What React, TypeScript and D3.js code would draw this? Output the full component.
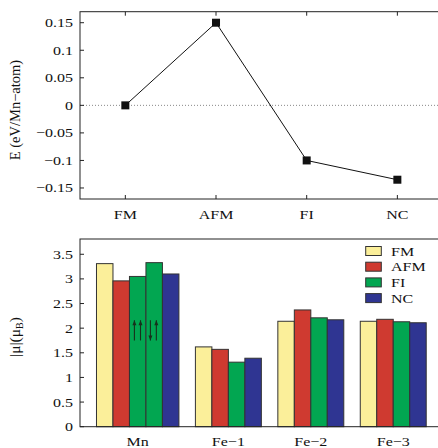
import React from "react";
import * as d3 from "d3";

const energyCategories = ["FM", "AFM", "FI", "NC"];
const energyValues = [0, 0.15, -0.1, -0.135];
const energyTicks = [-0.15, -0.1, -0.05, 0, 0.05, 0.1, 0.15];

const momentCategories = ["Mn", "Fe\u22121", "Fe\u22122", "Fe\u22123"];
const momentFM = [3.31, 1.62, 2.14, 2.14];
const momentAFM = [2.96, 1.57, 2.37, 2.18];
const momentFI = [3.05, 1.31, 2.21, 2.13];
const momentFI2 = [3.33, null, null, null];
const momentNC = [3.1, 1.39, 2.17, 2.11];
const momentTicks = [0, 0.5, 1, 1.5, 2, 2.5, 3, 3.5];

const seriesNames = ["FM", "AFM", "FI", "NC"];
const seriesColors = ["#fbef9a", "#cf3a30", "#02a651", "#2f3592"];

const FONT = "Liberation Serif, Times New Roman, Times, serif";

function fmt(v: number) {
  if (v === 0) return "0";
  const s = String(Math.abs(v));
  return (v < 0 ? "\u2212" : "") + s;
}

const SY = 0.82;

function T(props: { x: number; y: number; anchor?: string; children: React.ReactNode; size?: number }) {
  const { x, y, anchor, children, size } = props;
  return (
    <text transform={`translate(${x},${y}) scale(1,${SY})`} textAnchor={anchor || "start"}
      fontSize={size || 16} fill="#111" style={{ fontFamily: FONT }}>
      {children}
    </text>
  );
}

export default function App() {
  const W = 438;
  const H = 448;
  const left = 80;
  const right = 442.7;

  // top panel
  const t0 = 11.7, t1 = 199;
  const xE = d3.scaleLinear().domain([0.5, 4.5]).range([left, right]);
  const yE = d3.scaleLinear().domain([-0.17, 0.17]).range([t1, t0]);
  const pts = energyValues.map((v, i) => [xE(i + 1), yE(v)] as [number, number]);
  const linePath = d3.line()(pts) || "";

  // bottom panel
  const b0 = 239, b1 = 426.7;
  const yM = d3.scaleLinear().domain([0, 3.81]).range([b1, b0]);
  type Bar = { slot: number; value: number; color: string; arrows?: string };
  const bars: Bar[] = [];
  const groupCenters: number[] = [];
  let slot = 1;
  momentCategories.forEach((_, g) => {
    const list: { v: number | null; c: string; a?: string }[] = [
      { v: momentFM[g], c: seriesColors[0] },
      { v: momentAFM[g], c: seriesColors[1] },
      { v: momentFI[g], c: seriesColors[2], a: g === 0 ? "uu" : undefined },
      { v: momentFI2[g], c: seriesColors[2], a: "du" },
      { v: momentNC[g], c: seriesColors[3] },
    ];
    const start = slot;
    list.forEach((b) => {
      if (b.v == null) return;
      bars.push({ slot, value: b.v, color: b.c, arrows: b.a });
      slot += 1;
    });
    groupCenters.push((start + slot) / 2);
    slot += 1;
  });
  const xM = d3.scaleLinear().domain([0, slot]).range([left, right]);
  const bw = xM(1) - xM(0);

  const arrowColor = "#17301c";
  const arrowLo = 1.75, arrowHi = 2.16;
  const arrow = (x: number, up: boolean, key: string) => {
    const yTop = yM(arrowHi), yBot = yM(arrowLo);
    const tip = up ? yTop : yBot;
    const dir = up ? 1 : -1;
    return (
      <g key={key}>
        <line x1={x} x2={x} y1={yTop} y2={yBot} stroke={arrowColor} strokeWidth={1.1} />
        <path d={`M${x},${tip} L${x - 2},${tip + dir * 5} L${x + 2},${tip + dir * 5} Z`} fill={arrowColor} />
      </g>
    );
  };

  const tickLen = 4;

  return (
    <svg width={W} height={H} style={{ position: "absolute", left: 0, top: 0, background: "#fff", fontFamily: FONT }}>
      <rect x={0} y={0} width={W} height={H} fill="#fff" />
      {/* ===== Top panel ===== */}
      <line x1={left} x2={right} y1={yE(0)} y2={yE(0)} stroke="#888" strokeWidth={1} strokeDasharray="1,2" />
      {energyTicks.map((t) => (
        <g key={"et" + t}>
          <line x1={left} x2={left + tickLen} y1={yE(t)} y2={yE(t)} stroke="#222" />
          <line x1={right} x2={right - tickLen} y1={yE(t)} y2={yE(t)} stroke="#222" />
          <T x={73} y={yE(t) + 4.5} anchor="end">{fmt(t)}</T>
        </g>
      ))}
      {energyCategories.map((c, i) => (
        <g key={"ec" + c}>
          <line x1={xE(i + 1)} x2={xE(i + 1)} y1={t1} y2={t1 - tickLen} stroke="#222" />
          <line x1={xE(i + 1)} x2={xE(i + 1)} y1={t0} y2={t0 + tickLen} stroke="#222" />
          <T x={xE(i + 1)} y={218.5} anchor="middle">{c}</T>
        </g>
      ))}
      <path d={linePath} fill="none" stroke="#111" strokeWidth={1} />
      {pts.map((p, i) => (
        <rect key={"m" + i} x={p[0] - 4} y={p[1] - 4} width={8} height={8} fill="#111" />
      ))}
      <rect x={left} y={t0} width={right - left} height={t1 - t0} fill="none" stroke="#222" strokeWidth={1} />
      <text transform={`translate(20,110) rotate(-90)`} textAnchor="middle" fontSize={14.5} fill="#111"
        style={{ fontFamily: FONT }}>
        E (eV/Mn{"\u2212"}atom)
      </text>

      {/* ===== Bottom panel ===== */}
      {bars.map((b, i) => (
        <rect key={"b" + i} x={xM(b.slot)} y={yM(b.value)} width={bw} height={yM(0) - yM(b.value)}
          fill={b.color} stroke="#333" strokeWidth={1} />
      ))}
      {bars.filter((b) => b.arrows).map((b, i) => {
        const x0 = xM(b.slot);
        return b.arrows === "uu"
          ? [arrow(x0 + bw * 0.3, true, "a" + i + "1"), arrow(x0 + bw * 0.67, true, "a" + i + "2")]
          : [arrow(x0 + bw * 0.27, false, "a" + i + "1"), arrow(x0 + bw * 0.63, true, "a" + i + "2")];
      })}
      {momentTicks.map((t) => (
        <g key={"mt" + t}>
          <line x1={left} x2={left + tickLen} y1={yM(t)} y2={yM(t)} stroke="#222" />
          <line x1={right} x2={right - tickLen} y1={yM(t)} y2={yM(t)} stroke="#222" />
          <T x={73} y={yM(t) + 4.5} anchor="end">{fmt(t)}</T>
        </g>
      ))}
      {momentCategories.map((c, i) => (
        <T key={"mc" + c} x={xM(groupCenters[i])} y={445.5} anchor="middle">{c}</T>
      ))}
      <rect x={left} y={b0} width={right - left} height={b1 - b0} fill="none" stroke="#222" strokeWidth={1} />
      <text transform={`translate(20,337) rotate(-90)`} textAnchor="middle" fontSize={15.5} fill="#111"
        style={{ fontFamily: FONT }}>
        |{"\u03bc"}|({"\u03bc"}<tspan fontSize={10} dy={3}>B</tspan><tspan dy={-3}>)</tspan>
      </text>
      {/* legend */}
      {seriesNames.map((s, i) => {
        const cy = 251 + i * 15.7;
        return (
          <g key={"lg" + s}>
            <rect x={365.7} y={cy - 4.5} width={15.6} height={9} fill={seriesColors[i]} stroke="#333" strokeWidth={1} />
            <T x={391} y={cy + 4.5}>{s}</T>
          </g>
        );
      })}
    </svg>
  );
}
